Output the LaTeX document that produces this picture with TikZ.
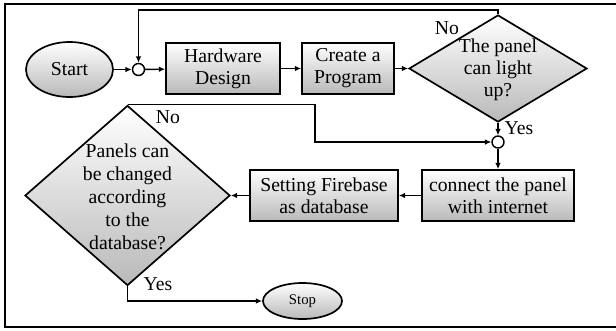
\documentclass[tikz,border=0pt]{standalone}
\usepackage{fontspec}
\setmainfont{Liberation Serif}
\usetikzlibrary{shapes.geometric,arrows.meta}

\begin{document}
\begin{tikzpicture}[x=0.025cm, y=-0.025cm,
  font=\fontsize{14}{15.6}\selectfont,
  shade box/.style={draw, line width=1.2pt, top color=white, bottom color=gray!55},
  process/.style={shade box, rectangle, minimum height=1.275cm, align=center, inner sep=0pt},
  terminal/.style={shade box, ellipse, inner sep=0pt},
  decision/.style={shade box, diamond, inner sep=0pt},
  junction/.style={draw, line width=1pt, circle, fill=white, minimum size=0.3cm, inner sep=0pt},
  flow/.style={-{Latex[length=4.5pt,width=4pt]}, line width=1pt}]

\useasboundingbox (0,0) rectangle (616,330);
\draw[line width=1.5pt] (5,4) rectangle (630,327);

% top row
\node[terminal, minimum width=2.175cm, minimum height=1.375cm] (start) at (69.5,69.5) {Start};
\node[junction] (join1) at (138.5,69.5) {};
\node[process, minimum width=2.85cm] (hw) at (223,68.5) {Hardware\\Design};
\node[process, minimum width=2.3cm] (prog) at (348,68.5) {Create a\\Program};
\node[decision, minimum width=4.45cm, minimum height=2.675cm] (light) at (498,68.5) {};
\node[align=center] (lighttxt) at (498,70) {The panel\\can light\\up?};
\node (lightno) at (447,28) {No};
\node (lightyes) at (519,128) {Yes};

% middle row
\node[junction] (join2) at (498,142) {};
\node[process, minimum width=3.8cm] (net) at (498,195.5) {connect the panel\\with internet};
\node[process, minimum width=3.7cm] (fire) at (324,195.5) {Setting Firebase\\as database};
\node[decision, minimum width=5.125cm, minimum height=4.5cm] (change) at (127.5,195.5) {};
\node[align=center, font=\fontsize{14}{16.3}\selectfont] (changetxt) at (127.5,197) {Panels can\\be changed\\according\\to the\\database?};
\node (changeno) at (168,117) {No};
\node (changeyes) at (158,284) {Yes};

% end
\node[terminal, minimum width=1.975cm, minimum height=0.9cm, font=\fontsize{10.5}{12}\selectfont] (stop) at (302.5,301) {Stop};

\coordinate (loopa) at (138.5,10);
\coordinate (loopb) at (315,142);

\draw[flow] (start) -- (join1);
\draw[flow] (join1) -- (hw);
\draw[flow] (hw) -- (prog);
\draw[flow] (prog) -- (light);
\draw[flow] (light.north) |- (loopa) -- (join1);
\draw[flow] (light) -- (join2);
\draw[flow] (join2) -- (net);
\draw[flow] (net) -- (fire);
\draw[flow] (fire) -- (change);
\draw[flow] (change.north) -| (loopb) -- (join2);
\draw[flow] (change.south) |- (stop);
\end{tikzpicture}
\end{document}
